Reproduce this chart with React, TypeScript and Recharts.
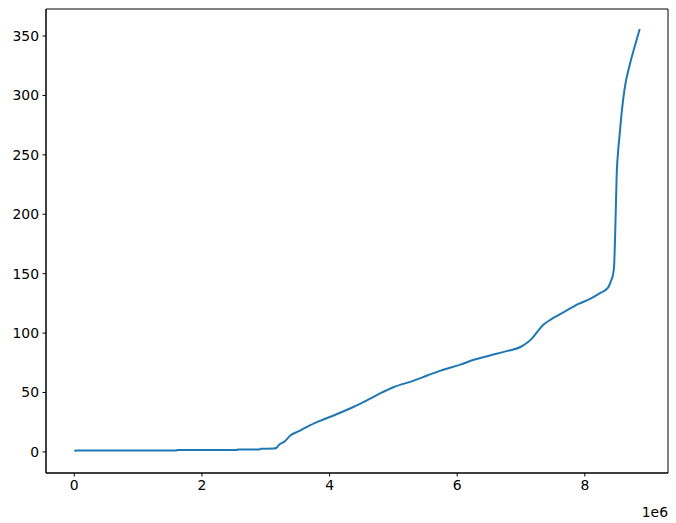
import React from 'react';
import { LineChart, Line, XAxis, YAxis, ReferenceArea } from 'recharts';

// values (x in raw units, 1e6 scale on the axis)
const xValues = [
  0, 0.05, 1.6, 1.61, 2.55, 2.56, 2.9, 2.92, 3.12, 3.17, 3.2, 3.3, 3.39, 3.5, 3.7,
  3.86, 4.1, 4.38, 4.6, 4.8, 5.0, 5.32, 5.54, 5.74, 6.05, 6.26, 6.5, 6.79, 7.0, 7.1,
  7.18, 7.26, 7.35, 7.47, 7.6, 7.73, 7.9, 8.09, 8.25, 8.36, 8.41, 8.445,
  8.46, 8.48, 8.5, 8.52, 8.54, 8.58, 8.63, 8.7, 8.78, 8.86,
].map((v) => v * 1e6);

const yValues = [
  1, 1.2, 1.2, 1.6, 1.6, 2.0, 2.1, 2.6, 2.8, 3.5, 5.5, 9, 14, 17, 22.5,
  26.3, 31.5, 38, 43.8, 49.4, 54.4, 60, 64.5, 68.4, 73.5, 77.5, 81, 85, 88.5, 92,
  96, 101.5, 107, 111.5, 115.5, 119.5, 124.5, 129, 134, 138, 144, 150,
  158, 193, 235, 252, 264, 287, 308, 325, 341, 356,
];

const xTicks = [0, 2e6, 4e6, 6e6, 8e6];
const yTicks = [0, 50, 100, 150, 200, 250, 300, 350];

const xDomain = [-0.443e6, 9.303e6];
const yDomain = [-17.75, 372.75];

const data = xValues.map((x, i) => ({ x, y: yValues[i] }));

const tickStyle = { fill: '#000', fontSize: 13.9, fontFamily: 'DejaVu Sans' };
const axisLine = { stroke: '#000', strokeWidth: 1 };

const App = () => {
  return (
    <div style={{ position: 'absolute', left: 0, top: 0, background: '#fff' }}>
      <LineChart
        width={676}
        height={523}
        data={data}
        margin={{ top: 9, right: 8, left: 0, bottom: 0 }}
      >
        <XAxis
          dataKey="x"
          type="number"
          domain={xDomain}
          ticks={xTicks}
          tickFormatter={(v: number) => String(v / 1e6)}
          tick={tickStyle}
          tickSize={3.5}
          tickMargin={3.5}
          axisLine={axisLine}
          tickLine={axisLine}
          height={50}
          allowDataOverflow
          label={{
            value: '1e6',
            position: 'insideBottomRight',
            offset: 6,
            dx: 6,
            style: { fill: '#000', fontSize: 13.9, fontFamily: 'DejaVu Sans' },
          }}
        />
        <YAxis
          type="number"
          domain={yDomain}
          ticks={yTicks}
          tick={tickStyle}
          tickSize={3.5}
          tickMargin={3.5}
          axisLine={axisLine}
          tickLine={axisLine}
          width={46}
          allowDataOverflow
        />
        {/* frame around the plot area */}
        <ReferenceArea
          x1={xDomain[0]}
          x2={xDomain[1]}
          y1={yDomain[0]}
          y2={yDomain[1]}
          fill="none"
          fillOpacity={0}
          stroke="#000"
          strokeWidth={1}
          ifOverflow="visible"
        />
        <Line
          type="monotoneX"
          dataKey="y"
          stroke="#1f77b4"
          strokeWidth={2}
          dot={false}
          isAnimationActive={false}
        />
      </LineChart>
    </div>
  );
};

export default App;
